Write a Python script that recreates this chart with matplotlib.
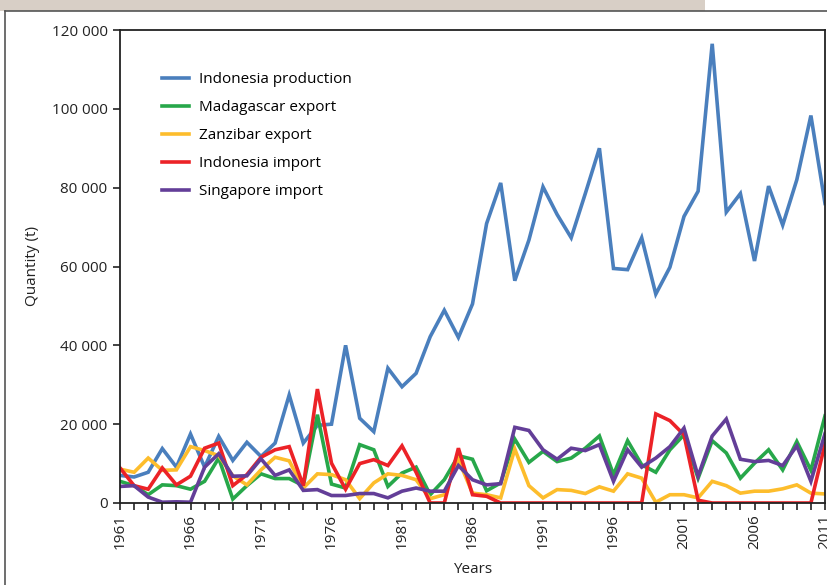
import numpy as np
import matplotlib.pyplot as plt
from matplotlib.ticker import FuncFormatter, MultipleLocator, FixedLocator

years = list(range(1961, 2012))

indonesia_production = [
    7000, 6600, 7800, 13800, 9100, 17500, 9100, 16900, 10800, 15400,
    11800, 15200, 27400, 15200, 19700, 20000, 40000, 21500, 18100, 34200,
    29500, 32900, 42200, 48900, 42000, 50500, 70900, 81200, 56400, 66700,
    80200, 73200, 67300, 78500, 90000, 59500, 59200, 67300, 53000, 59800,
    72700, 79100, 116500, 73800, 78500, 61400, 80400, 70500, 82000, 98300,
    76000]

madagascar_export = [
    5500, 4400, 2100, 4600, 4400, 3500, 5500, 11400, 1000, 4400,
    7400, 6200, 6200, 4400, 22400, 4800, 3800, 14800, 13500, 4200,
    7600, 9100, 2100, 5900, 12000, 11100, 3100, 5100, 16200, 10300,
    13100, 10500, 11400, 13900, 17000, 7200, 15800, 9700, 7800, 13500,
    17300, 6300, 15800, 12700, 6300, 10100, 13500, 8400, 15600, 8300,
    22100]

zanzibar_export = [
    8600, 7800, 11400, 8300, 8400, 14300, 13300, 12000, 6900, 4600,
    8400, 11600, 10700, 3800, 7400, 7200, 5900, 1100, 5100, 7400,
    7000, 5900, 1100, 2100, 11000, 2500, 2100, 1300, 13700, 4400,
    1300, 3400, 3200, 2400, 4100, 3000, 7400, 6300, 200, 2100,
    2100, 1300, 5500, 4400, 2500, 3000, 3000, 3600, 4600, 2500,
    2300]

indonesia_import = [
    8900, 4400, 3500, 8900, 4600, 6800, 13900, 15200, 4400, 7200,
    11600, 13500, 14300, 4400, 28900, 10100, 3500, 10000, 11000, 9500,
    14500, 7800, 0, 0, 13900, 2100, 1700, 0, 0, 0,
    0, 0, 0, 0, 0, 0, 0, 0, 22600, 20900,
    17300, 700, 0, 0, 0, 0, 0, 0, 0, 0,
    15000]

singapore_import = [
    4200, 4400, 1500, 200, 300, 200, 9100, 12500, 6800, 6900,
    11200, 7000, 8400, 3200, 3400, 1900, 1900, 2400, 2400, 1300,
    3000, 3800, 3000, 3000, 9500, 5900, 4600, 4900, 19200, 18400,
    13500, 11100, 13900, 13300, 14800, 5500, 13500, 9100, 11400, 14300,
    19000, 6800, 17000, 21300, 11100, 10500, 10800, 9500, 14500, 5500,
    17600]

label_years = years[::5]

series = [
    ("Indonesia production", indonesia_production, "#4a7fbd"),
    ("Madagascar export", madagascar_export, "#27a74a"),
    ("Zanzibar export", zanzibar_export, "#fdbd2c"),
    ("Indonesia import", indonesia_import, "#ec2227"),
    ("Singapore import", singapore_import, "#633e98"),
]

plt.rcParams['font.family'] = ['Open Sans', 'DejaVu Sans']

fig = plt.figure(figsize=(8.27, 5.85), dpi=100)

# header band and outer frame
fig.patches.append(plt.Rectangle((0, 1 - 11 / 585), 705 / 827, 11 / 585,
                                 transform=fig.transFigure, fc="#d8cfc6", ec="none"))
fig.lines.append(plt.Line2D([5 / 827, 1], [1 - 11 / 585, 1 - 11 / 585],
                            transform=fig.transFigure, color="#555555", lw=1.2))
fig.lines.append(plt.Line2D([5 / 827, 5 / 827], [0, 1 - 11 / 585],
                            transform=fig.transFigure, color="#555555", lw=1.2))

ax = fig.add_axes([120 / 827, 82 / 585, 705 / 827, 473 / 585])

for name, vals, col in series:
    ax.plot(years, vals, color=col, lw=2.6, label=name, solid_joinstyle='miter')

ax.set_xlim(1961, 2011)
ax.set_ylim(0, 120000)
ax.xaxis.set_major_locator(FixedLocator(label_years))
ax.xaxis.set_minor_locator(MultipleLocator(1))
ax.yaxis.set_major_locator(MultipleLocator(20000))
ax.yaxis.set_major_formatter(FuncFormatter(lambda v, p: f"{int(v):,}".replace(",", " ")))

ax.tick_params(axis='x', which='both', direction='out', length=5, width=1.2,
               labelrotation=90, labelsize=11, colors='#222222', pad=3)
ax.tick_params(axis='y', direction='out', length=5, width=1.2,
               labelsize=11, colors='#222222', pad=4)
for s in ax.spines.values():
    s.set_linewidth(1.3)
    s.set_color('#222222')

ax.set_ylabel("Quantity (t)", fontsize=11, color='#222222', labelpad=8)
ax.set_xlabel("Years", fontsize=11, color='#222222', labelpad=9)

ax.legend(loc='upper left', bbox_to_anchor=(0.04, 0.94), frameon=False,
          fontsize=11, handlelength=1.8, labelspacing=0.85, handletextpad=0.6)

plt.savefig("out.png", dpi=100)
